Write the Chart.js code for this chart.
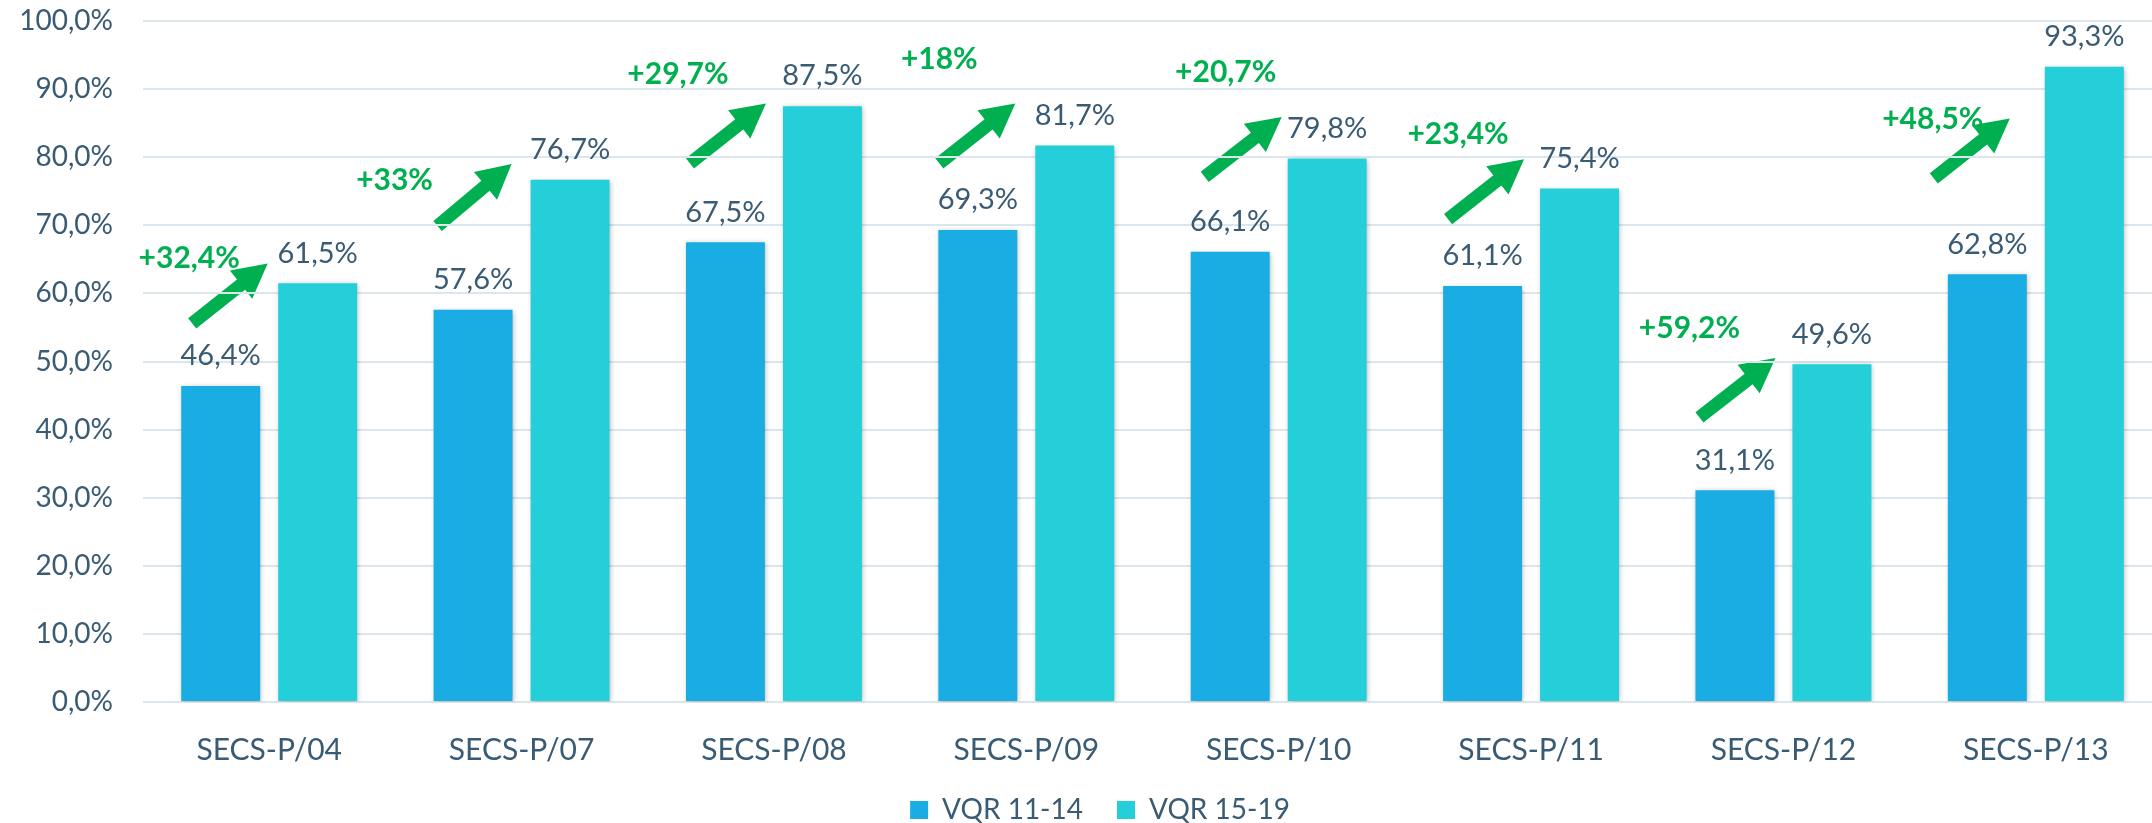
<!DOCTYPE html>
<html>
<head>
<meta charset="utf-8">
<script src="https://cdn.jsdelivr.net/npm/chart.js@4/dist/chart.umd.min.js"></script>
<style>
  html, body { margin: 0; padding: 0; background: #ffffff; overflow: hidden; }
  #wrap { position: relative; width: 2200px; height: 834px; }
</style>
</head>
<body>
<div id="wrap"><canvas id="c"></canvas></div>
<script>
// ---- data ----
const categories = ['SECS-P/04', 'SECS-P/07', 'SECS-P/08', 'SECS-P/09', 'SECS-P/10', 'SECS-P/11', 'SECS-P/12', 'SECS-P/13'];
const seriesNames = ['VQR 11-14', 'VQR 15-19'];
const vqr1114 = [46.4, 57.6, 67.5, 69.3, 66.1, 61.1, 31.1, 62.8];
const vqr1519 = [61.5, 76.7, 87.5, 81.7, 79.8, 75.4, 49.6, 93.3];
const growth = [32.4, 33, 29.7, 18, 20.7, 23.4, 59.2, 48.5];
const yTicks = [0, 10, 20, 30, 40, 50, 60, 70, 80, 90, 100];

// ---- annotation placement (px offset from category centre, value on y scale) ----
const arrowTail = [[-77, 55.6], [-84, 69.9], [-84, 79.1], [-87, 79.1], [-74, 77.1], [-83, 70.9], [-84, 41.8], [-102, 76.9]];
const arrowTip  = [[-1.5, 64.4], [-10, 79.0], [-8, 87.9], [-11, 87.9], [3, 85.9], [-7, 79.7], [-8, 50.5], [-26, 85.7]];
const growthPos = [[-80, 65.1], [-127, 76.6], [-96, 92.1], [-87, 94.4], [-53, 92.5], [-73, 83.3], [-94, 54.9], [-103, 85.5]];

const TEXT = '#3A5B74';
const GREEN = '#00B050';
const FONT = 'Lato';

function fmt(v, dec) {
  return (dec === undefined ? String(v) : v.toFixed(dec)).replace('.', ',') + '%';
}

const annotations = {
  id: 'annotations',
  afterLayout(chart) {
    if (chart.legend) { chart.legend.left += 38; }
  },
  beforeDraw(chart) {
    const ctx = chart.ctx, x = chart.scales.x, y = chart.scales.y;
    ctx.save();
    ctx.fillStyle = GREEN;
    for (let i = 0; i < categories.length; i++) {
      const cx = x.getPixelForValue(i);
      const x1 = cx + arrowTail[i][0], y1 = y.getPixelForValue(arrowTail[i][1]);
      const x2 = cx + arrowTip[i][0], y2 = y.getPixelForValue(arrowTip[i][1]);
      const dx = x2 - x1, dy = y2 - y1, len = Math.hypot(dx, dy);
      const ux = dx / len, uy = dy / len, nx = -uy, ny = ux;
      const w = 13, H = 36, L = 34;
      const bx = x2 - ux * L, by = y2 - uy * L;
      ctx.beginPath();
      ctx.moveTo(x1 + nx * w / 2, y1 + ny * w / 2);
      ctx.lineTo(bx + nx * w / 2, by + ny * w / 2);
      ctx.lineTo(bx + nx * H / 2, by + ny * H / 2);
      ctx.lineTo(x2, y2);
      ctx.lineTo(bx - nx * H / 2, by - ny * H / 2);
      ctx.lineTo(bx - nx * w / 2, by - ny * w / 2);
      ctx.lineTo(x1 - nx * w / 2, y1 - ny * w / 2);
      ctx.closePath();
      ctx.fill();
      ctx.font = 'bold 30px ' + FONT;
      ctx.textAlign = 'center';
      ctx.textBaseline = 'middle';
      ctx.fillText('+' + fmt(growth[i]), cx + growthPos[i][0], y.getPixelForValue(growthPos[i][1]));
    }
    ctx.restore();
  },
  beforeDatasetsDraw(chart) {
    const ctx = chart.ctx;
    ctx.save();
    ctx.shadowColor = 'rgba(0,0,0,0.28)';
    ctx.shadowBlur = 5;
    ctx.shadowOffsetX = 1;
    ctx.shadowOffsetY = 1;
  },
  afterDatasetsDraw(chart) {
    const ctx = chart.ctx;
    ctx.restore();
    ctx.save();
    ctx.fillStyle = TEXT;
    ctx.font = '29px ' + FONT;
    ctx.textAlign = 'center';
    ctx.textBaseline = 'middle';
    chart.data.datasets.forEach((ds, di) => {
      chart.getDatasetMeta(di).data.forEach((bar, i) => {
        ctx.fillText(fmt(ds.data[i], 1), bar.x, bar.y - 30);
      });
    });
    ctx.restore();
  }
};

new Chart(document.getElementById('c'), {
  type: 'bar',
  data: {
    labels: categories,
    datasets: [
      { label: seriesNames[0], data: vqr1114, backgroundColor: '#1AADE4' },
      { label: seriesNames[1], data: vqr1519, backgroundColor: '#24CFD9' }
    ]
  },
  options: {
    responsive: true,
    maintainAspectRatio: false,
    animation: false,
    layout: { padding: { top: 21, right: 38, left: 0, bottom: 0 } },
    datasets: { bar: { categoryPercentage: 0.7686, barPercentage: 0.8144 } },
    scales: {
      x: {
        grid: { display: false },
        border: { display: false },
        ticks: { color: TEXT, font: { family: FONT, size: 30 }, padding: 22, maxRotation: 0 },
        afterFit(s) { s.height = 60; s.paddingLeft = 0; s.paddingRight = 0; }
      },
      y: {
        min: 0, max: 100,
        afterBuildTicks(s) { s.ticks = yTicks.map(v => ({ value: v })); },
        grid: { color: '#DCE6EE', lineWidth: 2, drawTicks: false },
        border: { display: false },
        ticks: { color: TEXT, font: { family: FONT, size: 28 }, padding: 30, callback: v => fmt(v, 1) },
        afterFit(s) { s.width = 143; s.paddingTop = 0; s.paddingBottom = 0; }
      }
    },
    plugins: {
      tooltip: { enabled: false },
      legend: {
        position: 'bottom',
        labels: { color: TEXT, font: { family: FONT, size: 28 }, boxWidth: 18, boxHeight: 18, padding: 34 }
      }
    }
  },
  plugins: [annotations]
});
</script>
</body>
</html>
